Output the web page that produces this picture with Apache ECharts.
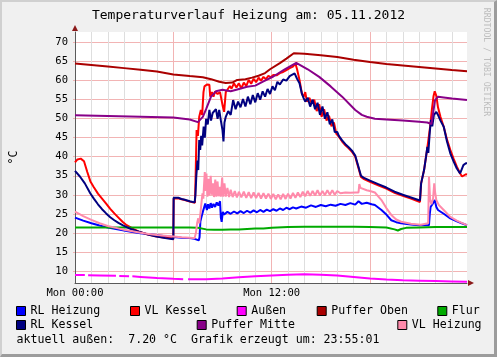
<!DOCTYPE html>
<html>
<head>
<meta charset="utf-8">
<script src="https://cdn.jsdelivr.net/npm/echarts@6/dist/echarts.min.js"></script>
<style>
  html, body { margin: 0; padding: 0; background: #f0f0f0; }
  #chart { position: absolute; left: 0; top: 0; width: 497px; height: 357px; }
  #frame { position: absolute; left: 0; top: 0; width: 497px; height: 357px; box-sizing: border-box;
    border-top: 2px solid #d0d0d0; border-left: 2px solid #d0d0d0;
    border-right: 3px solid #9c9c9c; border-bottom: 3px solid #9c9c9c; pointer-events: none; }
</style>
</head>
<body>
<div id="chart"></div>
<div id="frame"></div>
<script>
// ---------- data (hour of day, °C) ----------
const titleText = 'Temperaturverlauf Heizung am: 05.11.2012';
const yAxisName = '°C';
const watermark = 'RRDTOOL / TOBI OETIKER';
const footerText = 'aktuell außen:  7.20 °C  Grafik erzeugt um: 23:55:01';
const xLabelHours = [0, 12];
const xLabelTexts = ['Mon 00:00', 'Mon 12:00'];
const yTickValues = [10, 15, 20, 25, 30, 35, 40, 45, 50, 55, 60, 65, 70];

const seriesNames = ['RL Heizung', 'VL Kessel', 'Außen', 'Puffer Oben', 'Flur', 'RL Kessel', 'Puffer Mitte', 'VL Heizung'];

const rlHeizung = [[0,24.0],[0.5,23.2],[1,22.5],[1.5,21.9],[2,21.4],[2.5,21.0],[3,20.6],[3.5,20.2],[4,19.9],[4.5,19.6],[5,19.4],[5.5,19.1],[6,18.9],[6.5,18.7],[7,18.6],[7.3,18.4],[7.35,18.0],[7.55,18.0],[7.6,18.8],[7.65,23.0],[7.72,24.2],[7.8,25.5],[7.88,25.0],[7.95,27.7],[8.05,26.0],[8.12,27.5],[8.2,26.4],[8.28,27.8],[8.36,26.6],[8.45,27.6],[8.55,26.8],[8.65,28.0],[8.75,27.2],[8.85,28.3],[8.9,24.0],[8.95,22.9],[9.02,25.5],[9.1,24.8],[9.3,25.5],[9.5,25.0],[9.7,25.6],[9.9,25.1],[10.1,25.7],[10.3,25.2],[10.5,25.8],[10.7,25.3],[10.9,25.9],[11.1,25.4],[11.3,26.0],[11.5,25.5],[11.7,26.1],[11.9,25.7],[12.1,26.2],[12.3,25.8],[12.5,26.4],[12.7,26.0],[12.9,26.6],[13.1,26.2],[13.3,26.7],[13.5,26.4],[13.8,26.9],[14.1,26.6],[14.4,27.2],[14.7,26.8],[15.0,27.3],[15.3,27.0],[15.6,27.4],[15.9,27.1],[16.2,27.6],[16.5,27.3],[16.8,27.8],[17.1,27.4],[17.3,28.3],[17.5,27.6],[17.8,27.9],[18.1,27.5],[18.3,27.3],[18.7,26.0],[19.0,24.8],[19.3,23.3],[19.6,22.8],[19.9,22.5],[20.5,22.2],[21.0,22.0],[21.6,22.0],[21.65,25.0],[21.7,26.8],[21.85,27.8],[21.95,28.6],[22.05,26.8],[22.15,26.0],[22.5,25.0],[22.9,23.8],[23.3,23.0],[23.6,22.5],[23.92,22.0]];

const vlKessel = [[0,38.5],[0.15,39.3],[0.35,39.5],[0.55,38.8],[0.75,36.0],[0.95,33.4],[1.15,32.0],[1.4,30.3],[1.65,29.0],[1.9,27.7],[2.15,26.3],[2.4,25.1],[2.65,24.0],[2.9,22.9],[3.15,22.0],[3.4,21.4],[3.65,20.8],[3.9,20.3],[4.4,19.6],[4.9,19.1],[5.5,18.7],[6.0,18.5],[6.02,29.0],[6.3,29.1],[6.5,28.8],[6.7,28.6],[7.0,28.2],[7.32,27.9],[7.36,35.0],[7.42,47.0],[7.5,45.5],[7.58,50.5],[7.68,52.3],[7.76,51.0],[7.84,57.0],[7.9,58.5],[8.05,59.0],[8.2,58.9],[8.25,55.8],[8.35,57.0],[8.45,55.8],[8.55,57.2],[8.7,56.5],[8.85,57.0],[8.95,56.7],[9.02,53.2],[9.1,51.8],[9.2,57.0],[9.3,57.6],[9.45,58.6],[9.55,57.9],[9.7,59.3],[9.85,58.2],[10.0,59.3],[10.15,58.0],[10.3,59.5],[10.45,58.6],[10.6,60.2],[10.75,59.2],[10.9,60.5],[11.05,59.6],[11.2,60.8],[11.35,60.0],[11.5,61.0],[11.65,60.4],[11.8,61.3],[11.95,60.9],[12.1,61.5],[12.3,61.4],[12.5,62.0],[12.7,62.3],[12.9,62.8],[13.1,63.3],[13.3,63.7],[13.45,64.5],[13.55,63.0],[13.7,60.2],[13.85,56.5],[13.95,55.8],[14.05,57.0],[14.15,54.5],[14.3,55.5],[14.45,54.0],[14.6,55.0],[14.75,52.0],[14.9,53.8],[15.05,50.5],[15.2,52.5],[15.35,49.5],[15.5,50.8],[15.65,48.0],[15.8,49.0],[15.95,46.0],[16.1,45.3],[16.3,44.0],[16.5,43.0],[16.7,42.2],[16.9,41.3],[17.1,40.0],[17.3,37.0],[17.45,34.7],[17.6,34.2],[18.0,33.4],[18.5,32.5],[19.0,31.6],[19.5,30.5],[20.0,29.7],[20.5,29.0],[21.05,28.1],[21.12,33.0],[21.3,36.5],[21.45,40.9],[21.55,44.0],[21.67,47.9],[21.78,52.5],[21.88,56.0],[21.95,57.2],[22.05,56.0],[22.15,53.0],[22.3,50.5],[22.5,47.9],[22.7,44.5],[22.9,41.8],[23.1,39.5],[23.3,37.4],[23.5,35.6],[23.62,34.8],[23.72,35.2],[23.85,35.4],[23.92,35.3]];

const aussen = [[0,8.9],[0.6,8.9],[0.7,null],[0.8,8.85],[1.5,8.8],[2.5,8.7],[2.6,null],[2.7,8.65],[3.3,8.6],[3.4,null],[3.5,8.55],[4,8.4],[5,8.1],[6,7.9],[6.6,7.8],[6.7,null],[6.9,7.8],[8,7.8],[9,8.0],[10,8.3],[11,8.6],[12,8.8],[13,9.0],[14,9.1],[15,9.0],[16,8.8],[17,8.4],[18,8.0],[19,7.7],[20,7.5],[21,7.4],[22,7.3],[23,7.2],[23.92,7.1]];

const pufferOben = [[0,64.5],[1,64.1],[2,63.7],[3,63.3],[4,62.9],[5,62.4],[6,61.6],[7,61.2],[7.8,60.9],[8.3,60.4],[8.8,59.7],[9.2,59.4],[9.6,59.5],[9.9,60.2],[10.4,60.4],[10.8,60.8],[11.2,61.3],[11.6,62.0],[11.9,63.0],[12.5,64.6],[12.9,65.8],[13.35,67.2],[14,67.1],[15,66.7],[16,66.2],[17,65.5],[18,64.9],[19,64.4],[20,64.0],[21,63.6],[22,63.2],[23,62.8],[23.92,62.5]];

const flur = [[0,21.4],[2,21.4],[4,21.4],[6,21.4],[7,21.4],[7.5,21.3],[8,20.9],[8.5,20.8],[9,20.8],[9.5,20.9],[10,20.9],[10.5,21.0],[11,21.1],[11.5,21.1],[12,21.3],[13,21.5],[14,21.6],[15,21.6],[16,21.6],[17,21.6],[18,21.5],[19,21.4],[19.5,20.9],[19.7,20.6],[19.9,21.0],[20.2,21.3],[21,21.4],[22,21.5],[23,21.5],[23.92,21.5]];

const rlKessel = [[0,36.3],[0.3,34.8],[0.6,33.0],[0.93,30.4],[1.15,29.0],[1.4,27.5],[1.65,26.2],[1.9,25.1],[2.15,24.1],[2.4,23.3],[2.65,22.6],[2.9,22.0],[3.15,21.5],[3.4,21.0],[3.9,20.3],[4.4,19.6],[4.9,19.1],[5.5,18.6],[6.0,18.3],[6.02,29.2],[6.3,29.2],[6.5,28.9],[6.7,28.7],[7.0,28.3],[7.3,28.0],[7.35,30.0],[7.4,34.7],[7.47,39.0],[7.52,36.5],[7.58,44.4],[7.64,41.8],[7.7,45.5],[7.76,43.0],[7.85,47.9],[7.92,45.0],[8.0,50.0],[8.1,48.5],[8.2,52.3],[8.3,49.5],[8.4,51.5],[8.5,51.0],[8.6,52.5],[8.7,50.0],[8.8,52.3],[8.9,49.5],[9.0,47.0],[9.06,44.0],[9.12,49.0],[9.2,50.5],[9.35,52.0],[9.5,51.0],[9.65,54.9],[9.8,52.5],[9.95,54.5],[10.1,53.0],[10.25,55.2],[10.4,53.2],[10.55,55.8],[10.7,53.8],[10.85,56.2],[11.0,54.3],[11.15,56.7],[11.3,55.0],[11.45,57.2],[11.6,55.8],[11.75,57.8],[11.9,56.5],[12.05,58.5],[12.2,57.5],[12.35,59.7],[12.5,59.0],[12.7,60.3],[12.9,60.0],[13.1,61.2],[13.4,61.9],[13.55,60.5],[13.7,59.3],[13.85,56.5],[13.95,55.4],[14.05,54.5],[14.2,55.5],[14.35,53.2],[14.5,55.0],[14.65,52.5],[14.8,54.2],[14.95,51.0],[15.1,53.2],[15.25,50.0],[15.4,51.7],[15.55,48.5],[15.7,49.8],[15.85,46.5],[16.0,46.5],[16.1,45.5],[16.3,44.3],[16.5,43.3],[16.7,42.5],[16.9,41.6],[17.1,40.3],[17.3,37.3],[17.45,35.0],[17.6,34.5],[18.0,33.7],[18.5,32.8],[19.0,31.9],[19.5,30.8],[20.0,30.0],[20.5,29.3],[21.05,28.5],[21.12,33.0],[21.3,36.5],[21.42,40.0],[21.5,42.6],[21.56,41.0],[21.65,46.5],[21.72,49.7],[21.8,48.0],[21.9,51.0],[22.05,51.8],[22.15,51.0],[22.3,49.5],[22.5,47.9],[22.7,44.0],[22.9,40.9],[23.1,38.8],[23.3,36.9],[23.5,35.6],[23.6,35.8],[23.7,37.8],[23.85,38.3],[23.92,38.3]];

const pufferMitte = [[0,50.9],[2,50.7],[4,50.5],[6,50.3],[7,49.8],[7.5,49.1],[7.8,50.5],[8.0,52.5],[8.3,55.8],[8.6,57.2],[9.0,57.6],[9.5,57.2],[9.9,57.7],[10.5,58.4],[11,58.7],[11.5,59.8],[12.1,61.1],[12.8,63.0],[13.5,64.7],[14.2,63.0],[14.9,61.0],[15.6,58.5],[16.3,55.8],[17.1,52.3],[17.5,51.0],[17.8,50.5],[18.3,50.0],[19,49.8],[20,49.5],[21,49.2],[21.5,49.0],[21.75,48.6],[21.97,54.9],[22.16,55.8],[22.5,55.6],[23,55.3],[23.92,54.9]];

const vlHeizung = [[0,25.6],[0.5,24.4],[1,23.4],[1.5,22.5],[2,21.8],[2.5,21.3],[3,20.8],[3.5,20.4],[4,20.0],[4.5,19.7],[5,19.4],[5.5,19.2],[6,19.0],[6.5,18.8],[7,18.7],[7.3,18.6],[7.38,20.0],[7.45,22.5],[7.52,23.8],[7.58,22.5],[7.65,25.0],[7.72,28.0],[7.78,30.4],[7.83,29.0],[7.88,33.0],[7.92,36.0],[7.97,31.0],[8.02,35.6],[8.08,29.5],[8.15,34.2],[8.2,29.8],[8.28,35.0],[8.34,30.0],[8.42,33.0],[8.48,29.4],[8.56,34.0],[8.62,29.5],[8.7,33.5],[8.76,29.6],[8.84,32.1],[8.9,29.5],[8.98,34.5],[9.04,29.5],[9.12,33.0],[9.2,29.5],[9.3,31.8],[9.4,29.4],[9.5,31.3],[9.62,29.4],[9.75,31.0],[9.88,29.3],[10.0,30.8],[10.15,29.3],[10.3,30.8],[10.45,29.2],[10.6,30.7],[10.75,29.1],[10.9,30.6],[11.05,29.1],[11.2,30.5],[11.35,29.0],[11.5,30.4],[11.65,29.0],[11.8,30.3],[11.95,28.9],[12.1,30.2],[12.25,28.8],[12.4,30.1],[12.55,28.8],[12.7,30.2],[12.85,28.9],[13.0,30.3],[13.15,29.0],[13.3,30.5],[13.45,29.2],[13.6,30.6],[13.75,29.4],[13.9,30.8],[14.05,29.6],[14.2,31.0],[14.35,29.7],[14.5,31.0],[14.65,29.8],[14.8,31.2],[14.95,29.8],[15.1,31.0],[15.25,29.9],[15.4,31.2],[15.55,30.0],[15.7,31.2],[15.85,30.0],[16.0,31.0],[16.2,30.4],[16.5,30.6],[16.8,30.5],[17.1,30.6],[17.3,30.6],[17.35,32.8],[17.42,31.8],[17.5,31.3],[17.8,31.2],[18.0,31.0],[18.3,30.6],[18.7,28.6],[19.0,26.5],[19.3,24.7],[19.6,23.5],[19.9,22.9],[20.5,22.4],[21.1,22.1],[21.55,22.5],[21.6,34.7],[21.67,28.6],[21.75,27.5],[21.85,29.0],[21.92,33.0],[21.98,30.5],[22.05,28.6],[22.2,27.3],[22.5,26.0],[22.9,24.2],[23.3,23.2],[23.6,22.6],[23.92,22.0]];

const seriesData = [rlHeizung, vlKessel, aussen, pufferOben, flur, rlKessel, pufferMitte, vlHeizung];

// ---------- styles ----------
const seriesColors = ['#0000ff', '#ff0000', '#ff00ff', '#aa0000', '#00aa00', '#000080', '#880088', '#ff8aab'];
const FONT = 'DejaVu Sans Mono';
const X_MIN = 0, X_MAX = 23.92, Y_MIN = 6.8, Y_MAX = 72.8;
const legendPos = [[16,305],[130,305],[236.7,305],[316.7,305],[437.3,305],[16,319],[196.7,319],[397.3,319]];
const minorGrid = '#dedede', majorGrid = '#f2b4b4', arrowColor = '#8b1a1a', axisColor = '#5a5a5a';

const chart = echarts.init(document.getElementById('chart'), null, { renderer: 'canvas' });

const legends = seriesNames.map((n, i) => ({
  data: [n], left: legendPos[i][0], top: legendPos[i][1], padding: 0,
  icon: 'rect', itemWidth: 9, itemHeight: 9, selectedMode: false,
  itemStyle: { borderColor: '#000', borderWidth: 1 },
  textStyle: { fontFamily: FONT, fontSize: 11.6, color: '#000', lineHeight: 12 }
}));

const series = seriesNames.map((n, i) => ({
  name: n, type: 'line', data: seriesData[i], showSymbol: false, symbol: 'none',
  connectNulls: false, xAxisIndex: 0, yAxisIndex: 0,
  lineStyle: { color: seriesColors[i], width: 2 }, itemStyle: { color: seriesColors[i] },
  silent: true
}));

chart.setOption({
  animation: false,
  backgroundColor: '#f0f0f0',
  title: {
    text: titleText, left: 'center', top: 9, padding: 0,
    textStyle: { fontFamily: FONT, fontSize: 13, fontWeight: 'normal', color: '#000' }
  },
  legend: legends,
  grid: { left: 68, right: 30, top: 32, bottom: 74, show: true, backgroundColor: '#ffffff', borderWidth: 0 },
  xAxis: [{
    type: 'value', min: X_MIN, max: X_MAX, interval: 1,
    axisLine: { show: true, lineStyle: { color: axisColor, width: 1 } },
    axisTick: { show: false },
    axisLabel: {
      showMaxLabel: false, margin: 5, fontFamily: FONT, fontSize: 10.5, color: '#000',
      formatter: v => { const k = xLabelHours.indexOf(v); return k >= 0 ? xLabelTexts[k] : ''; }
    },
    splitLine: { show: true, showMaxLine: false,
      lineStyle: { color: [majorGrid, minorGrid, minorGrid, minorGrid, minorGrid, minorGrid], width: 1 } }
  }, {
    type: 'value', min: X_MIN, max: X_MAX, position: 'bottom',
    axisLine: { show: true, symbol: ['none', 'triangle'], symbolSize: [6, 6], symbolOffset: [0, 4],
      lineStyle: { color: arrowColor, width: 0 } },
    axisTick: { show: false }, axisLabel: { show: false }, splitLine: { show: false }
  }],
  yAxis: [{
    type: 'value', min: Y_MIN, max: Y_MAX, splitNumber: 13,
    name: yAxisName, nameLocation: 'middle', nameRotate: 90, nameGap: 55,
    nameTextStyle: { fontFamily: FONT, fontSize: 11.6, color: '#000' },
    axisLine: { show: true, lineStyle: { color: axisColor, width: 1 } },
    axisTick: { show: true, length: 2, lineStyle: { color: majorGrid } },
    axisLabel: {
      showMinLabel: false, showMaxLabel: false, margin: 7, fontFamily: FONT, fontSize: 10.5, color: '#000',
      formatter: v => (yTickValues.indexOf(v) >= 0 ? String(v) : '')
    },
    splitLine: { show: true, showMaxLine: false, lineStyle: { color: majorGrid, width: 1 } }
  }, {
    type: 'value', min: Y_MIN, max: Y_MAX, position: 'left',
    axisLine: { show: true, symbol: ['none', 'triangle'], symbolSize: [6, 6], symbolOffset: [0, 4],
      lineStyle: { color: arrowColor, width: 0 } },
    axisTick: { show: false }, axisLabel: { show: false }, splitLine: { show: false }
  }],
  graphic: [
    { type: 'text', x: 486, y: 62, rotation: -Math.PI / 2, silent: true,
      style: { text: watermark, fill: '#bdbdbd', font: '8.2px "DejaVu Sans Mono"', align: 'center', verticalAlign: 'middle' } },
    { type: 'text', x: 16.5, y: 339.5, silent: true,
      style: { text: footerText, fill: '#000', font: '11.6px "DejaVu Sans Mono"', align: 'left', verticalAlign: 'middle' } }
  ],
  series: series
});
</script>
</body>
</html>
